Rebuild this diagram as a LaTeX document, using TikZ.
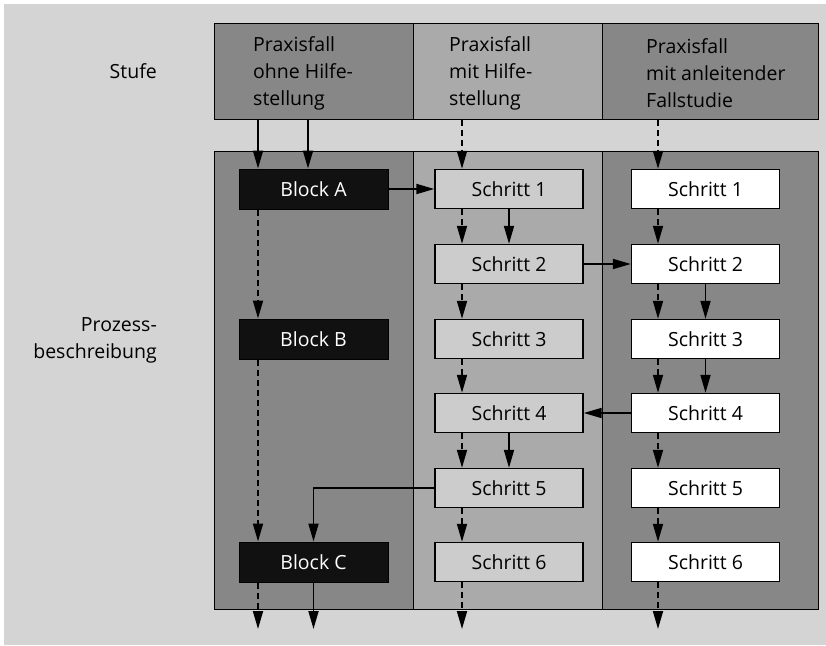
\documentclass[tikz,border=0pt]{standalone}
\usepackage{fontspec}
\setmainfont{Open Sans}
\usetikzlibrary{arrows.meta}
\definecolor{bgc}{HTML}{D4D4D4}
\definecolor{darkc}{HTML}{878787}
\definecolor{midc}{HTML}{AAAAAA}
\definecolor{stepc}{HTML}{CCCCCC}
\definecolor{blockc}{HTML}{111111}
\begin{document}
\begin{tikzpicture}[x=1pt,y=-1pt,
  font=\fontsize{19.5}{27}\selectfont,
  ar/.style={-{Triangle[length=18pt,width=10pt]}, line width=1.8pt},
  dar/.style={ar, dash pattern=on 6pt off 4pt},
  colbox/.style={draw=black, line width=1.1pt, anchor=north west, inner sep=0},
  blk/.style={draw=black, fill=blockc, text=white, minimum width=149pt, minimum height=40pt, inner sep=0, line width=1pt},
  st2/.style={draw=black, fill=stepc, minimum width=148pt, minimum height=39pt, inner sep=0, line width=1.4pt},
  st3/.style={st2, fill=white},
  hdtext/.style={anchor=west, align=left, inner sep=0}]
\useasboundingbox (0,0) rectangle (826,645);
\fill[white] (0,0) rectangle (826,645);
\fill[bgc] (4,4) rectangle (826,645);

% header boxes
\node[colbox, fill=darkc, minimum width=199pt, minimum height=96pt] (h1) at (214,23) {};
\node[colbox, fill=midc, minimum width=189pt, minimum height=96pt] (h2) at (413,23) {};
\node[colbox, fill=darkc, minimum width=216pt, minimum height=96pt] (h3) at (602,23) {};
\node[hdtext] (t1) at (253,73) {Praxisfall\\ohne Hilfe-\\stellung};
\node[hdtext] (t2) at (449,73) {Praxisfall\\mit Hilfe-\\stellung};
\node[hdtext] (t3) at (646,73) {Praxisfall\\mit anleitender\\Fallstudie};

% main columns
\node[colbox, fill=darkc, minimum width=199pt, minimum height=458pt] (c1) at (214,151) {};
\node[colbox, fill=midc, minimum width=189pt, minimum height=458pt] (c2) at (413,151) {};
\node[colbox, fill=darkc, minimum width=216pt, minimum height=458pt] (c3) at (602,151) {};

% left labels
\node[anchor=east, align=right, inner sep=0] (stufe) at (157,71) {Stufe};
\node[anchor=east, align=right, inner sep=0] (proz) at (157,340) {Prozess-\\beschreibung};

% blocks
\node[blk] (A) at (313.5,189) {Block A};
\node[blk] (B) at (313.5,339) {Block B};
\node[blk] (C) at (313.5,562) {Block C};

% steps
\foreach \i/\y in {1/189,2/264,3/339,4/413,5/488,6/562}{
  \node[st2] (s2\i) at (509,\y) {Schritt \i};
  \node[st3] (s3\i) at (705.5,\y) {Schritt \i};
}

% x positions
\coordinate (xd1) at (258,0);
\coordinate (xs1) at (308,0);
\coordinate (xd2) at (462,0);
\coordinate (xd3) at (658,0);
\coordinate (bot) at (0,629);

% column 1
\draw[ar] (h1.south -| xd1) -- (A.north -| xd1);
\draw[ar] (h1.south -| xs1) -- (A.north -| xs1);
\draw[dar] (A.south -| xd1) -- (B.north -| xd1);
\draw[dar] (B.south -| xd1) -- (C.north -| xd1);
\draw[dar] (C.south -| xd1) -- (xd1 |- bot);
\draw[ar] (C.south) -- (C.south |- bot);

% column 2
\draw[dar] (h2.south -| xd2) -- (s21.north -| xd2);
\draw[dar] (s21.south -| xd2) -- (s22.north -| xd2);
\draw[ar] (s21.south) -- (s22.north);
\draw[dar] (s22.south -| xd2) -- (s23.north -| xd2);
\draw[dar] (s23.south -| xd2) -- (s24.north -| xd2);
\draw[dar] (s24.south -| xd2) -- (s25.north -| xd2);
\draw[ar] (s24.south) -- (s25.north);
\draw[dar] (s25.south -| xd2) -- (s26.north -| xd2);
\draw[dar] (s26.south -| xd2) -- (xd2 |- bot);

% column 3
\draw[dar] (h3.south -| xd3) -- (s31.north -| xd3);
\draw[dar] (s31.south -| xd3) -- (s32.north -| xd3);
\draw[dar] (s32.south -| xd3) -- (s33.north -| xd3);
\draw[ar] (s32.south) -- (s33.north);
\draw[dar] (s33.south -| xd3) -- (s34.north -| xd3);
\draw[ar] (s33.south) -- (s34.north);
\draw[dar] (s34.south -| xd3) -- (s35.north -| xd3);
\draw[dar] (s35.south -| xd3) -- (s36.north -| xd3);
\draw[dar] (s36.south -| xd3) -- (xd3 |- bot);

% horizontal links
\draw[ar] (A.east) -- (s21.west);
\draw[ar] (s22.east) -- (s32.west);
\draw[ar] (s34.west) -- (s24.east);
\draw[ar] (s25.west) -| (C.north);
\end{tikzpicture}
\end{document}
